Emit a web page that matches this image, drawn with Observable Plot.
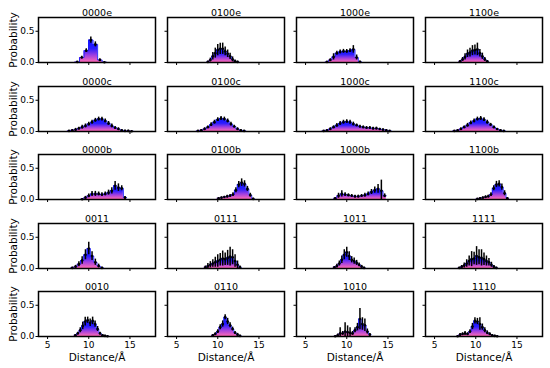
<!DOCTYPE html>
<html><head><meta charset="utf-8">
<script src="https://cdn.jsdelivr.net/npm/d3@7"></script>
<script src="https://cdn.jsdelivr.net/npm/@observablehq/plot@0.6"></script>
<style>
body{margin:0;background:#fff;}
#chart{position:relative;width:550px;height:368px;overflow:hidden;background:#fff;}
#chart svg{position:absolute;}
</style></head><body><div id="chart"></div>
<script>
// panel titles (row-major, 5 rows x 4 columns)
const names = ["0000e","0100e","1000e","1100e","0000c","0100c","1000c","1100c","0000b","0100b","1000b","1100b","0011","0111","1011","1111","0010","0110","1010","1110"];
// first bin centre (Å) and bin width (Å) per panel
const binStart = [8.6,8.8,7.6,8.1, 7.6,7.6,7.2,7.4, 9.2,10.1,8.6,10.2, 8.0,8.5,8.5,8.0, 8.37,9.4,8.6,7.8];
const binWidth = [0.55,0.3,0.4,0.3, 0.4,0.4,0.4,0.4, 0.4,0.35,0.4,0.33, 0.4,0.3,0.3,0.3, 0.3,0.3,0.3,0.3];
// probabilities
const v_0000e = [0.01,0.08,0.19,0.36,0.29,0.04,0.005];
const e_0000e = [0.005,0.02,0.03,0.05,0.04,0.02,0.005];
const v_0100e = [0.01,0.04,0.1,0.15,0.2,0.22,0.22,0.18,0.14,0.1,0.05,0.02,0.01];
const e_0100e = [0.01,0.03,0.06,0.08,0.09,0.09,0.09,0.07,0.06,0.05,0.04,0.02,0.01];
const v_1000e = [0.01,0.04,0.09,0.15,0.17,0.18,0.18,0.19,0.21,0.08,0.01];
const e_1000e = [0.005,0.02,0.05,0.03,0.03,0.03,0.03,0.03,0.06,0.04,0.01];
const v_1100e = [0.02,0.05,0.09,0.14,0.16,0.19,0.2,0.21,0.15,0.1,0.05,0.02];
const e_1100e = [0.01,0.03,0.05,0.06,0.07,0.08,0.08,0.1,0.06,0.05,0.03,0.01];
const v_0000c = [0.01,0.02,0.03,0.05,0.07,0.09,0.12,0.15,0.18,0.2,0.2,0.17,0.13,0.09,0.06,0.04,0.02,0.01,0.01,0.005];
const e_0000c = [0.005,0.01,0.02,0.02,0.03,0.03,0.03,0.03,0.03,0.03,0.03,0.03,0.03,0.03,0.02,0.02,0.01,0.01,0.01,0.005];
const v_0100c = [0.01,0.02,0.04,0.07,0.11,0.15,0.19,0.21,0.2,0.17,0.12,0.08,0.04,0.02,0.01];
const e_0100c = [0.005,0.01,0.02,0.02,0.03,0.03,0.03,0.03,0.03,0.03,0.03,0.02,0.02,0.01,0.005];
const v_1000c = [0.01,0.02,0.04,0.07,0.1,0.13,0.15,0.16,0.15,0.12,0.1,0.08,0.07,0.06,0.06,0.05,0.05,0.04,0.03,0.02,0.01];
const e_1000c = [0.005,0.01,0.02,0.02,0.03,0.03,0.03,0.03,0.03,0.03,0.02,0.02,0.02,0.02,0.02,0.02,0.02,0.01,0.01,0.01,0.005];
const v_1100c = [0.01,0.02,0.04,0.07,0.1,0.14,0.17,0.2,0.21,0.19,0.15,0.11,0.07,0.04,0.02,0.01];
const e_1100c = [0.005,0.01,0.02,0.02,0.03,0.03,0.03,0.03,0.03,0.03,0.03,0.02,0.02,0.01,0.01,0.005];
const v_0000b = [0.005,0.03,0.06,0.09,0.09,0.09,0.08,0.09,0.11,0.14,0.22,0.19,0.18,0.03];
const e_0000b = [0.005,0.02,0.03,0.04,0.04,0.03,0.03,0.03,0.04,0.05,0.07,0.06,0.04,0.02];
const v_0100b = [0.02,0.03,0.04,0.05,0.06,0.08,0.15,0.24,0.27,0.25,0.17,0.07,0.01];
const e_0100b = [0.01,0.01,0.01,0.02,0.02,0.03,0.04,0.05,0.06,0.05,0.04,0.03,0.01];
const v_1000b = [0.02,0.06,0.09,0.08,0.07,0.06,0.05,0.05,0.06,0.07,0.09,0.12,0.15,0.17,0.14,0.06];
const e_1000b = [0.01,0.04,0.05,0.03,0.02,0.02,0.02,0.02,0.02,0.03,0.03,0.04,0.05,0.07,0.17,0.03];
const v_1100b = [0.01,0.02,0.03,0.04,0.05,0.08,0.18,0.24,0.25,0.2,0.1,0.02];
const e_1100b = [0.005,0.01,0.01,0.02,0.02,0.03,0.04,0.05,0.05,0.05,0.04,0.01];
const v_0011 = [0.01,0.03,0.07,0.13,0.22,0.32,0.2,0.1,0.04,0.01];
const e_0011 = [0.01,0.02,0.04,0.06,0.08,0.1,0.07,0.05,0.03,0.01];
const v_0111 = [0.02,0.04,0.06,0.08,0.1,0.12,0.14,0.16,0.15,0.17,0.19,0.18,0.12,0.06,0.02];
const e_0111 = [0.02,0.04,0.05,0.06,0.08,0.1,0.1,0.12,0.1,0.12,0.15,0.12,0.1,0.06,0.02];
const v_1011 = [0.02,0.04,0.08,0.14,0.22,0.26,0.2,0.14,0.12,0.09,0.06,0.03,0.01];
const e_1011 = [0.01,0.03,0.04,0.06,0.08,0.08,0.07,0.05,0.05,0.04,0.03,0.02,0.01];
const v_1111 = [0.01,0.03,0.05,0.08,0.12,0.15,0.16,0.2,0.18,0.17,0.15,0.12,0.1,0.06,0.03,0.01];
const e_1111 = [0.01,0.02,0.04,0.06,0.08,0.12,0.1,0.15,0.12,0.13,0.1,0.08,0.06,0.04,0.02,0.01];
const v_0010 = [0.02,0.05,0.1,0.17,0.24,0.26,0.22,0.25,0.2,0.12,0.05,0.02,0.01,0.005];
const e_0010 = [0.01,0.02,0.04,0.06,0.07,0.05,0.06,0.06,0.05,0.04,0.02,0.01,0.01,0.005];
const v_0110 = [0.02,0.04,0.08,0.15,0.2,0.31,0.24,0.18,0.12,0.06,0.03,0.01];
const e_0110 = [0.01,0.02,0.03,0.04,0.05,0.04,0.05,0.04,0.03,0.02,0.02,0.01];
const v_1010 = [0.005,0.02,0.05,0.05,0.08,0.07,0.06,0.05,0.1,0.15,0.28,0.2,0.18,0.08,0.03];
const e_1010 = [0.005,0.02,0.09,0.03,0.14,0.1,0.08,0.03,0.04,0.06,0.17,0.1,0.1,0.04,0.02];
const v_1110 = [0.005,0.03,0.04,0.05,0.04,0.08,0.16,0.25,0.24,0.2,0.15,0.1,0.06,0.04,0.02,0.01,0.005];
const e_1110 = [0.005,0.02,0.02,0.03,0.02,0.03,0.05,0.05,0.05,0.1,0.05,0.04,0.03,0.02,0.01,0.01,0.005];

const values = [v_0000e,v_0100e,v_1000e,v_1100e,v_0000c,v_0100c,v_1000c,v_1100c,v_0000b,v_0100b,v_1000b,v_1100b,v_0011,v_0111,v_1011,v_1111,v_0010,v_0110,v_1010,v_1110];
const errors = [e_0000e,e_0100e,e_1000e,e_1100e,e_0000c,e_0100c,e_1000c,e_1100c,e_0000b,e_0100b,e_1000b,e_1100b,e_0011,e_0111,e_1011,e_1111,e_0010,e_0110,e_1010,e_1110];

const xTicks = [5,10,15];
const yTicks = [0,0.5];

const panelW = 117, panelH = 45, colStep = 129, rowStep = 68.5, left0 = 38, top0 = 17;
const mL = 38, mR = 6, mT = 17, mB = 32;
const chart = document.getElementById("chart");

names.forEach((name, i) => {
  const col = i % 4, row = Math.floor(i / 4);
  const start = binStart[i], w = binWidth[i];
  const bins = values[i].map((v, k) => ({c: start + k * w, x1: start + (k - 0.5) * w, x2: start + (k + 0.5) * w, v, e: errors[i][k]}));
  const edges = bins.flatMap(b => [{x: b.x1, y: b.v}, {x: b.x2, y: b.v}]);
  const gid = "grad" + i;
  const marks = [
    Plot.areaY(edges, {x: "x", y1: 0, y2: "y", fill: `url(#${gid})`}),
    Plot.lineY(edges, {x: "x", y: "y", stroke: "#1a1aff", strokeWidth: 0.9}),
    Plot.ruleX(bins, {x: "c", y1: b => Math.max(0, b.v - b.e), y2: b => b.v + b.e, stroke: "black", strokeWidth: 1.5}),
    Plot.dot(bins, {x: "c", y: "v", r: 1.3, fill: "black"}),
    Plot.text([name], {frameAnchor: "top", dy: -2, lineAnchor: "bottom", textAnchor: "middle", fontSize: 9.5, fill: "black"}),
    Plot.frame({stroke: "black", strokeWidth: 1.5})
  ];
  if (col === 0) marks.push(Plot.text(["Probability"], {frameAnchor: "left", textAnchor: "middle", lineAnchor: "middle", rotate: -90, dx: -25, fontSize: 10.5, fill: "black"}));
  if (row === 4) marks.push(Plot.text(["Distance/Å"], {frameAnchor: "bottom", textAnchor: "middle", lineAnchor: "top", dy: 17, fontSize: 10.5, fill: "black"}));
  const svg = Plot.plot({
    width: panelW + mL + mR,
    height: panelH + mT + mB,
    marginLeft: mL, marginRight: mR, marginTop: mT, marginBottom: mB,
    style: {background: "transparent", fontFamily: "DejaVu Sans, sans-serif", fontSize: "9px", color: "black", overflow: "visible"},
    x: {domain: [3.9, 18.1], ticks: xTicks, tickSize: 3, tickPadding: 2, tickFormat: row === 4 ? (d => String(d)) : (() => ""), label: null},
    y: {domain: [0, 0.72], ticks: yTicks, tickSize: 2.5, tickPadding: 1.5, tickFormat: col === 0 ? (d => d.toFixed(1)) : (() => ""), label: null},
    marks
  });
  const ns = "http://www.w3.org/2000/svg";
  const defs = document.createElementNS(ns, "defs");
  defs.innerHTML = `<linearGradient id="${gid}" x1="0" y1="1" x2="0" y2="0"><stop offset="0" stop-color="#ff6ab4"/><stop offset="0.3" stop-color="#a040e0"/><stop offset="0.6" stop-color="#2a1cff"/><stop offset="1" stop-color="#1010ff"/></linearGradient>`;
  svg.insertBefore(defs, svg.firstChild);
  svg.style.position = "absolute";
  svg.style.left = (left0 + col * colStep - mL) + "px";
  svg.style.top = (top0 + row * rowStep - mT) + "px";
  chart.appendChild(svg);
});
</script></body></html>
